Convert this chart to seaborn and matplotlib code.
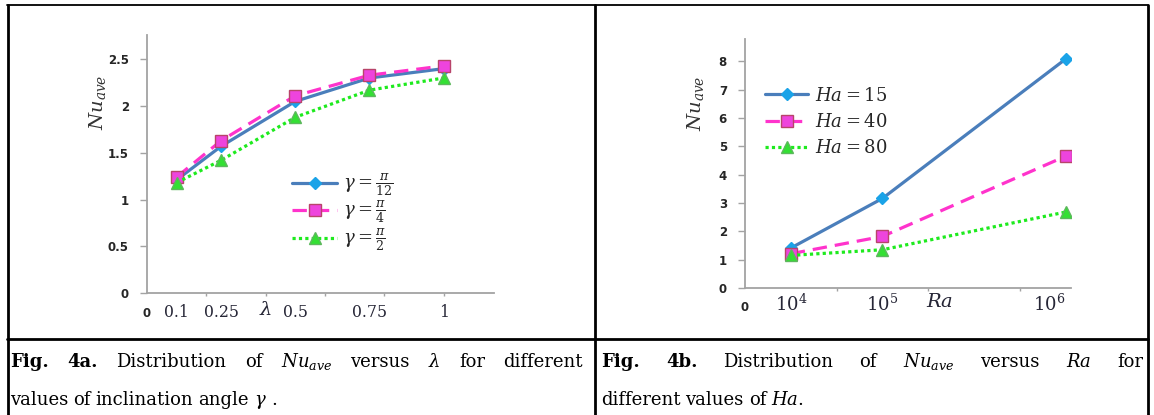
import matplotlib
matplotlib.use("Agg")
import matplotlib.pyplot as plt
import matplotlib.transforms as mtransforms
from matplotlib.lines import Line2D
import pandas as pd
import seaborn as sns

# ---- Fig. 4a : Nu_ave versus lambda ----
lam = [0.1, 0.25, 0.5, 0.75, 1.0]
lam_labels = ["0.1", "0.25", "0.5", "0.75", "1"]
nu_gamma_pi12 = [1.21, 1.57, 2.05, 2.30, 2.40]
nu_gamma_pi4 = [1.24, 1.63, 2.11, 2.33, 2.43]
nu_gamma_pi2 = [1.18, 1.42, 1.88, 2.17, 2.30]
gamma_names = [r"$\gamma=\frac{\pi}{12}$", r"$\gamma=\frac{\pi}{4}$", r"$\gamma=\frac{\pi}{2}$"]
left_yticks = [0, 0.5, 1, 1.5, 2, 2.5]
left_yticklabels = ["0", "0.5", "1", "1.5", "2", "2.5"]

# ---- Fig. 4b : Nu_ave versus Ra (Ra sits on the chart's x slots 1, 3, 7) ----
ra_x = [1, 3, 7]
ra_labels = [r"$10^4$", r"$10^5$", r"$10^6$"]
nu_ha15 = [1.41, 3.16, 8.08]
nu_ha40 = [1.21, 1.82, 4.65]
nu_ha80 = [1.15, 1.35, 2.68]
ha_names = [r"$Ha=15$", r"$Ha=40$", r"$Ha=80$"]
right_yticks = [0, 1, 2, 3, 4, 5, 6, 7, 8]

df_a = pd.DataFrame({
    "x": lam * 3,
    "nu": nu_gamma_pi12 + nu_gamma_pi4 + nu_gamma_pi2,
    "series": [n for n in gamma_names for _ in lam],
})
df_b = pd.DataFrame({
    "x": ra_x * 3,
    "nu": nu_ha15 + nu_ha40 + nu_ha80,
    "series": [n for n in ha_names for _ in ra_x],
})

sns.set_style("white")
plt.rcParams["font.family"] = ["DejaVu Serif"]
plt.rcParams["mathtext.fontset"] = "dejavuserif"

AXIS_GRAY = "#a3a3a3"
TEXT_DARK = "#262636"
series_styles = [
    dict(color="#4a7ebb", marker="D", markersize=6, markerfacecolor="#1aa3e8",
         markeredgecolor="#1aa3e8", linestyle="-"),
    dict(color="#ff33cc", marker="s", markersize=9, markerfacecolor="#ee44dd",
         markeredgecolor="#b8446a", linestyle=(0, (4.5, 2.5))),
    dict(color="#1eea1e", marker="^", markersize=9, markerfacecolor="#33e033",
         markeredgecolor="#5cb85c", linestyle=(0, (1, 1))),
]

W, H = 1154, 415
fig = plt.figure(figsize=(W / 100, H / 100), dpi=100)


def box(x0, y0, x1, y1):
    # pixel box (y from top) -> figure fraction rect
    return [x0 / W, 1 - y1 / H, (x1 - x0) / W, (y1 - y0) / H]


ax1 = fig.add_axes(box(147, 35, 494, 293))
ax2 = fig.add_axes(box(745, 39, 1071, 288))


def draw_series(ax, df, names):
    for name, st in zip(names, series_styles):
        sns.lineplot(data=df[df["series"] == name], x="x", y="nu", ax=ax,
                     label=name, linewidth=2.3, markeredgewidth=1, **st)


def style_axes(ax, xmax, ymax, yticks, yticklabels, major_x, lab_x, lab_text,
               lab_size, lab_pad):
    ax.set_xlim(0, xmax)
    ax.set_ylim(0, ymax)
    for s in ["top", "right"]:
        ax.spines[s].set_visible(False)
    for s in ["left", "bottom"]:
        ax.spines[s].set_color(AXIS_GRAY)
        ax.spines[s].set_linewidth(1.3)
    ax.set_yticks(yticks, yticklabels)
    ax.tick_params(axis="y", direction="out", length=5, width=1, color=AXIS_GRAY,
                   pad=8, labelsize=8.5, left=True)
    for t in ax.get_yticklabels():
        t.set_fontfamily("DejaVu Sans")
        t.set_fontweight("bold")
    # tick marks every slot, labels sit on the data positions
    ax.xaxis.remove_overlapping_locs = False
    ax.set_xticks(major_x, [""] * len(major_x))
    ax.tick_params(axis="x", which="major", direction="out", length=2.5, width=1,
                   color=AXIS_GRAY, bottom=True)
    ax.set_xticks(lab_x, lab_text, minor=True)
    ax.tick_params(axis="x", which="minor", length=0, pad=lab_pad,
                   labelsize=lab_size, labelcolor=TEXT_DARK)
    ax.set_xlabel("")
    ax.set_ylabel("")


draw_series(ax1, df_a, gamma_names)
draw_series(ax2, df_b, ha_names)

style_axes(ax1, 1.17, 2.76, left_yticks, left_yticklabels,
           [0.2, 0.4, 0.6, 0.8, 1.0], lam, lam_labels, 11.3, 8)
style_axes(ax2, 7.12, 8.79, right_yticks, [str(v) for v in right_yticks],
           [2, 4, 6], ra_x, ra_labels, 13, 4)
ax2.get_xticklabels(minor=True)[-1].set_horizontalalignment("right")

# origin "0" under each x axis
for ax, dy in [(ax1, -20), (ax2, -19)]:
    ax.annotate("0", xy=(0, 0), xytext=(0, dy * 0.72), textcoords="offset points",
                ha="center", va="center", fontsize=8.5, fontweight="bold",
                family="DejaVu Sans", annotation_clip=False)

# axis titles
t1 = mtransforms.blended_transform_factory(ax1.transData, ax1.transAxes)
ax1.text(0.4, -17 / 258, r"$\lambda$", transform=t1, ha="center", va="center",
         fontsize=14, color=TEXT_DARK)
t2 = mtransforms.blended_transform_factory(ax2.transData, ax2.transAxes)
ax2.text(4.26, -14 / 249, r"$Ra$", transform=t2, ha="center", va="center",
         fontsize=14, color=TEXT_DARK)
ax1.text((97 - 147) / 347, (293 - 102) / 258, r"$Nu_{ave}$", transform=ax1.transAxes,
         rotation=90, ha="center", va="center", fontsize=14, color="#333333")
ax2.text((695 - 745) / 326, (288 - 103) / 249, r"$Nu_{ave}$", transform=ax2.transAxes,
         rotation=90, ha="center", va="center", fontsize=14, color="#333333")

ax1.legend(loc="center left", bbox_to_anchor=(0.418, 0.314), frameon=False,
           fontsize=13, handlelength=2.5, handletextpad=0.3, borderpad=0,
           borderaxespad=0, labelspacing=0.05)
ax2.legend(loc="center left", bbox_to_anchor=(0.061, 0.667), frameon=False,
           fontsize=13, handlelength=2.4, handletextpad=0.4, borderpad=0,
           borderaxespad=0, labelspacing=0.45)

# table borders
def hline(y, x0, x1, lw):
    fig.add_artist(Line2D([x0 / W, x1 / W], [1 - y / H, 1 - y / H], color="black",
                          lw=lw, transform=fig.transFigure))


def vline(x, y0, y1, lw):
    fig.add_artist(Line2D([x / W, x / W], [1 - y0 / H, 1 - y1 / H], color="black",
                          lw=lw, transform=fig.transFigure))


hline(5, 7, 1148, 1.3)
hline(338.5, 7, 1148, 2.0)
vline(7.5, 5, 415, 2.0)
vline(594.5, 5, 415, 2.0)
vline(1147.5, 5, 415, 2.0)

# captions: first lines justified across the cell, second lines left aligned
CAP = 13


def place_words(words, x0, y, x1=None):
    texts = []
    for w, bold in words:
        texts.append(fig.text(x0 / W, 1 - y / H, w, fontsize=CAP, va="baseline",
                              ha="left", fontweight="bold" if bold else "normal",
                              color="black"))
    fig.canvas.draw()
    r = fig.canvas.get_renderer()
    widths = [t.get_window_extent(r).width for t in texts]
    if x1 is None:
        gap = 5
    else:
        gap = (x1 - x0 - sum(widths)) / (len(texts) - 1)
    x = x0
    for t, w in zip(texts, widths):
        t.set_x(x / W)
        x += w + gap


place_words([("Fig.", True), ("4a.", True), ("Distribution", False), ("of", False),
             (r"$Nu_{ave}$", False), ("versus", False), (r"$\lambda$", False),
             ("for", False), ("different", False)], 10, 367, 583)
place_words([("values", False), ("of", False), ("inclination", False), ("angle", False),
             (r"$\gamma$", False), (".", False)], 10, 405)
place_words([("Fig.", True), ("4b.", True), ("Distribution", False), ("of", False),
             (r"$Nu_{ave}$", False), ("versus", False), (r"$Ra$", False),
             ("for", False)], 601, 367, 1143)
place_words([("different", False), ("values", False), ("of", False),
             (r"$Ha.$", False)], 601, 405)

fig.savefig("out.png", dpi=100)
